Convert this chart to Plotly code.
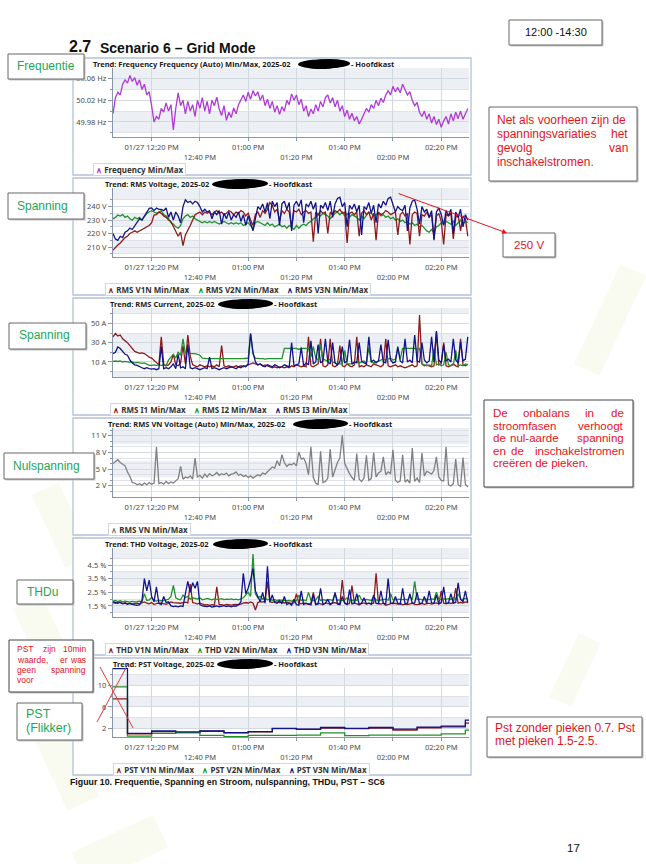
import math
import pandas as pd
import plotly.graph_objects as go

W, H = 646, 864

# ---------------- data (one value per minute from 12:04) ----------------
minutes = pd.date_range("2025-01-27 12:04", periods=148, freq="min")

freq = [
    49.995, 50.025, 50.035, 50.03, 50.05, 50.058, 50.052, 50.066, 50.055, 50.062,
    50.048, 50.058, 50.04, 50.05, 50.03, 50.036, 50.01, 49.98, 49.99, 49.985,
    50.005, 49.998, 50.015, 50.0, 50.012, 49.965, 50.005, 50.034, 50.01, 50.02,
    49.995, 50.018, 50.0, 50.012, 49.99, 50.02, 50.005, 50.025, 50.0, 50.018,
    49.995, 50.02, 50.01, 50.026, 50.004, 49.992, 50.01, 49.983, 49.998, 49.988,
    50.006, 49.995, 50.012, 50.02, 50.03, 50.018, 50.035, 50.022, 50.038, 50.028,
    50.036, 50.02, 50.03, 50.01, 50.022, 50.005, 50.018, 49.998, 50.01, 49.994,
    50.008, 50.0, 50.02, 50.012, 50.032, 50.02, 50.03, 50.012, 50.022, 50.0,
    50.01, 49.99, 50.004, 49.995, 50.012, 50.0, 50.018, 50.008, 50.025, 50.03,
    50.015, 50.025, 50.008, 50.02, 50.0, 50.01, 49.99, 50.002, 49.985, 49.996,
    49.982, 49.99, 49.976, 49.985, 49.995, 50.005, 49.998, 50.012, 50.005, 50.02,
    50.01, 50.024, 50.016, 50.03, 50.038, 50.03, 50.046, 50.036, 50.044, 50.034,
    50.05, 50.04, 50.03, 50.036, 50.02, 50.01, 50.016, 49.998, 49.99, 50.0,
    49.985, 49.995, 49.978, 49.99, 49.975, 49.985, 49.97, 49.982, 49.99, 49.976,
    49.995, 49.982, 49.998, 49.986, 50.0, 49.985, 49.995, 50.005,
]

v1n = [
    207.7, 210, 211.5, 213, 215, 217, 218, 220, 221, 222,
    221, 222, 223, 224, 225, 226, 228, 233.7, 234, 236,
    235, 233, 232, 230, 229, 225, 222, 218, 221, 211,
    219, 222, 226, 230, 234, 235, 236, 234, 236, 235,
    236, 234, 236, 237, 235, 236, 234, 235, 237, 236,
    234, 236, 235, 237, 236, 233, 235, 230, 226, 234,
    236, 232, 237, 235, 238, 243, 241, 236, 238, 230,
    237, 235, 238, 236, 225, 237, 236, 238, 234, 236,
    237, 235, 236, 214, 236, 234, 237, 235, 236, 220,
    236, 234, 237, 236, 238, 235, 236, 213, 235, 236,
    234, 236, 218, 235, 237, 234, 236, 230, 235, 215,
    236, 234, 235, 237, 236, 234, 235, 236, 219, 234,
    236, 233, 235, 212, 234, 236, 235, 218, 234, 233,
    236, 232, 234, 216, 233, 235, 229, 212, 234, 233,
    235, 216, 232, 234, 222, 233, 231, 218,
]
v2n = [
    231, 232, 233.7, 233, 234, 232, 233, 231, 230, 232,
    231, 232, 230, 233, 235, 236, 237, 236, 235, 236,
    237, 234, 233, 231, 228, 227, 225, 224, 226, 231,
    233, 234, 232, 233, 231, 230, 229, 228, 229, 228,
    229, 228, 229, 228, 227, 228, 229, 228, 227, 228,
    227, 228, 227, 228, 226, 227, 228, 226, 224, 228,
    229, 228, 227, 226, 228, 226, 227, 225, 226, 227,
    225, 226, 224, 226, 225, 223, 226, 224, 226, 227,
    226, 228, 229, 231, 232, 234, 233, 235, 234, 233,
    231, 233, 235, 236, 234, 236, 233, 235, 232, 234,
    233, 232, 230, 233, 231, 234, 236, 235, 233, 234,
    235, 233, 234, 232, 233, 231, 232, 230, 231, 229,
    230, 228, 229, 227, 228, 226, 227, 225, 226, 224,
    222, 221, 223, 221, 225, 226, 228, 227, 229, 228,
    227, 229, 226, 228, 230, 227, 229, 228,
]
v3n = [
    220, 216, 215, 218, 217, 221, 222, 224, 223, 226,
    228, 231, 230, 233, 236, 238.7, 239, 237, 239, 238,
    238, 237, 239, 232, 236, 230, 236, 233, 228, 240,
    245, 243, 244, 242, 244, 243, 240, 236, 238, 236,
    237, 231, 236, 234, 237, 227, 235, 231, 236, 230,
    234, 232, 236, 229, 234, 226, 233, 228, 222, 231,
    240, 238, 242, 236, 243, 231, 244, 240, 243, 226,
    242, 244, 238, 243, 222, 241, 244, 240, 245, 228,
    242, 240, 244, 238, 243, 220, 241, 239, 243, 237,
    244, 232, 242, 246, 247, 240, 243, 225, 241, 238,
    242, 236, 241, 219, 240, 238, 243, 235, 241, 228,
    242, 239, 244, 241, 246, 247, 241, 236, 240, 238,
    237, 241, 222, 239, 244, 245, 238, 227, 240, 236,
    238, 232, 237, 215, 236, 239, 234, 226, 237, 233,
    238, 220, 236, 232, 238, 225, 234, 230,
]

i1 = [
    36, 39.5, 37, 38, 34, 32, 30, 27, 24, 21,
    20, 19, 19.5, 18.7, 17, 15, 14, 12, 10, 7,
    36, 8, 6, 7, 10, 18, 7, 6, 9, 27,
    8, 38, 16, 7, 6, 5, 7, 6, 5, 6,
    5, 6, 5, 7, 5, 27, 6, 5, 6, 5,
    5, 6, 5, 6, 5, 6, 7, 8, 9, 8,
    7, 8, 6, 7, 6, 5, 4, 5, 4, 5,
    5, 4, 5, 4, 6, 5, 7, 6, 5, 6,
    5, 36, 6, 5, 7, 8, 34, 6, 5, 7,
    34, 6, 5, 7, 27, 6, 5, 8, 6, 5,
    7, 36, 5, 6, 5, 7, 6, 5, 8, 7,
    6, 5, 7, 34, 6, 5, 6, 7, 5, 6,
    5, 4, 5, 6, 7, 5, 6, 58.7, 8, 6,
    7, 6, 5, 6, 41, 7, 8, 30, 6, 5,
    7, 8, 6, 5, 34, 7, 6, 8,
]
i2 = [
    10.7, 11, 10.5, 11, 10, 10.5, 10, 9.5, 10, 9,
    9.5, 9, 8.5, 9, 8, 6.5, 6.5, 7, 6.5, 7,
    6.5, 7, 6, 12, 15, 18, 14, 20, 17, 34,
    19, 22, 18.7, 19, 18.7, 18, 17, 14, 13.5, 13.5,
    13.5, 13.5, 13.5, 13.5, 13, 13.5, 13.5, 13.5, 13.5, 13.5,
    13.5, 13, 13.5, 13.5, 13.5, 14, 13.5, 39.5, 18, 14,
    13.5, 13.5, 13.5, 13, 13.5, 13.5, 13.5, 13.5, 13.5, 13.5,
    13.5, 24, 24, 24, 24, 24, 24, 23, 24, 24,
    24, 24, 15, 26, 14, 12, 28, 13, 12, 11,
    13, 10, 9, 8, 8, 8, 22, 8, 8, 8,
    9, 10, 9, 10, 11, 9, 25, 10, 9, 10,
    11, 12, 13, 12, 13, 14, 12, 13, 24, 13,
    24, 24, 24, 24, 24, 24, 23, 24, 8, 7,
    6, 7, 6, 24, 7, 8, 6, 7, 20, 7,
    6, 7, 22, 6, 7, 6, 8, 7,
]
i3 = [
    18.7, 20, 25.6, 24, 21, 18, 17, 12, 9, 7,
    6.5, 5, 4, 3, 4, 3, 2.5, 3, 2, 3,
    26, 3, 4, 3, 5, 8, 3, 18, 4, 5,
    3, 28, 4, 3, 4, 3, 2, 3, 4, 3,
    15, 3, 4, 3, 2, 3, 4, 3, 4, 5,
    4, 3, 5, 4, 6, 5, 8, 39.5, 20, 10,
    7, 8, 6, 5, 7, 6, 5, 7, 6, 4,
    5, 7, 6, 5, 30, 6, 7, 8, 25, 6,
    9, 7, 32, 8, 10, 28, 9, 11, 34, 10,
    8, 30, 9, 7, 10, 26, 9, 11, 33, 8,
    10, 9, 30, 11, 9, 8, 36, 10, 12, 9,
    11, 28, 10, 9, 33, 12, 9, 10, 26, 11,
    9, 34, 10, 12, 9, 38, 11, 10, 30, 12,
    9, 11, 36, 10, 42, 12, 9, 28, 11, 13,
    10, 34, 12, 9, 31, 11, 13, 36,
]

vn = [
    6, 6.4, 6.7, 6.2, 5.9, 5.6, 4.5, 3.7, 2.6, 2.5,
    2.2, 2.4, 2.1, 2.5, 2.2, 2.6, 2.3, 2.5, 9, 2.4,
    2.6, 2.3, 2.8, 2.4, 2.7, 2.5, 2.9, 3.3, 5.5, 3.2,
    3.6, 3.4, 3.8, 3.2, 7, 3.6, 3.9, 3.4, 4.1, 3.6,
    4.2, 3.8, 4.0, 4.4, 3.9, 4.2, 4.0, 4.3, 3.8, 4.1,
    4.2, 4.5, 3.9, 4.1, 3.7, 3.9, 3.5, 3.8, 3.4, 3.7,
    4.0, 3.8, 4.3, 4.1, 4.6, 5.0, 5.4, 5.2, 6.5, 5.6,
    7.6, 6.2, 5.5, 5.9, 5.8, 6.1, 5.6, 8.1, 6.8, 7.0,
    6.0, 4.0, 9.0, 3.5, 2.5, 2.2, 8.2, 2.6, 2.8, 3.4,
    8.6, 3.6, 4.8, 6.2, 7.0, 11.1, 6.0, 5.0, 4.2, 3.5,
    3.0, 7.8, 3.2, 2.8, 3.4, 7.5, 3.0, 3.3, 8.0, 3.6,
    4.3, 4.6, 7.2, 4.0, 4.5, 4.2, 8.5, 3.0, 2.6, 2.9,
    7.6, 2.7, 3.1, 2.5, 8.8, 2.8, 3.4, 2.6, 7.9, 3.8,
    4.6, 4.4, 4.1, 4.8, 7.2, 3.6, 3.0, 2.9, 9.0, 2.2,
    2.0, 2.4, 6.8, 2.2, 1.9, 7.1, 2.3, 1.8,
]

thd_v1n = [
    1.75, 1.7, 1.8, 1.72, 1.68, 1.74, 1.66, 1.7, 1.62, 1.68,
    1.7, 1.65, 1.72, 1.8, 1.7, 1.66, 1.75, 1.6, 1.68, 1.72,
    1.7, 1.65, 1.62, 1.7, 1.8, 1.75, 1.72, 1.68, 1.7, 1.74,
    1.78, 1.72, 3.1, 1.75, 1.7, 1.65, 1.7, 1.62, 1.58, 1.6,
    1.55, 1.6, 1.56, 2.9, 1.58, 1.6, 1.55, 1.62, 1.58, 1.56,
    1.6, 1.62, 1.58, 1.66, 1.7, 1.75, 1.7, 1.8, 1.72, 1.2,
    1.75, 1.82, 1.78, 1.85, 3.3, 1.8, 1.76, 1.82, 1.78, 1.74,
    1.8, 1.72, 1.76, 1.7, 1.68, 1.74, 2.4, 1.7, 1.66, 1.72,
    1.68, 1.62, 1.7, 2.5, 1.64, 1.7, 1.66, 1.6, 1.72, 1.68,
    1.64, 1.7, 1.74, 1.68, 1.66, 3.4, 1.7, 1.64, 1.68, 3.0,
    1.72, 1.66, 1.6, 1.68, 1.72, 1.64, 1.7, 1.66, 1.7, 3.9,
    1.68, 1.64, 1.7, 1.55, 1.6, 1.66, 1.72, 1.68, 1.64, 1.7,
    1.58, 1.64, 1.6, 1.66, 1.7, 1.62, 1.6, 1.64, 1.68, 1.62,
    1.66, 1.7, 1.64, 1.68, 1.72, 1.66, 2.6, 1.7, 1.66, 1.72,
    1.68, 1.74, 2.8, 1.7, 1.76, 1.72, 1.8, 1.75,
]
thd_v2n = [
    1.85, 1.9, 1.82, 1.88, 1.8, 1.86, 1.82, 1.78, 1.84, 1.8,
    1.82, 1.85, 1.8, 2.4, 1.9, 1.95, 2.1, 1.9, 1.86, 1.92,
    1.88, 1.9, 1.95, 2.0, 2.2, 3.0, 2.1, 2.0, 1.95, 2.3,
    2.1, 2.2, 2.0, 2.1, 2.05, 2.0, 2.1, 1.95, 2.0, 2.05,
    2.0, 1.95, 2.02, 1.98, 2.0, 2.04, 1.96, 2.0, 1.98, 2.02,
    1.96, 2.0, 1.95, 2.0, 2.1, 2.3, 2.5, 2.2, 5.3, 2.4,
    2.1, 2.2, 2.0, 2.1, 1.95, 2.0, 1.92, 1.96, 1.9, 1.94,
    1.9, 1.92, 1.88, 1.9, 1.86, 1.92, 1.88, 2.3, 1.9, 1.94,
    1.88, 2.5, 1.92, 1.9, 1.95, 2.2, 1.9, 1.96, 1.92, 1.94,
    1.96, 1.9, 2.4, 1.92, 1.95, 1.9, 1.96, 2.1, 1.92, 1.9,
    1.94, 1.9, 2.3, 1.96, 1.92, 1.98, 1.94, 1.9, 2.2, 1.95,
    1.9, 1.94, 1.96, 2.0, 1.92, 2.4, 1.96, 1.94, 1.98, 2.0,
    1.96, 2.0, 1.94, 2.2, 1.96, 3.3, 1.98, 2.0, 1.96, 1.94,
    2.0, 1.96, 2.02, 1.98, 2.5, 2.0, 1.96, 2.02, 2.0, 2.04,
    1.98, 2.1, 2.0, 2.4, 2.02, 1.98, 2.05, 2.0,
]
thd_v3n = [
    1.8, 1.75, 1.7, 1.78, 1.65, 1.7, 1.62, 1.68, 1.6, 1.58,
    1.55, 1.6, 1.9, 3.5, 2.6, 3.4, 2.2, 1.8, 2.9, 1.7,
    1.6, 2.2, 1.75, 1.8, 1.5, 1.45, 1.48, 1.44, 1.5, 1.46,
    2.4, 3.3, 2.5, 3.2, 2.8, 3.3, 1.6, 1.5, 1.48, 1.45,
    1.5, 1.42, 1.46, 1.5, 1.44, 1.48, 1.52, 1.46, 1.5, 1.44,
    1.5, 1.48, 1.6, 1.8, 3.9, 2.4, 2.8, 3.4, 4.25, 2.6,
    2.2, 1.8, 2.5, 1.7, 4.4, 1.8, 2.3, 1.75, 1.7, 1.9,
    1.65, 2.2, 1.6, 1.7, 1.55, 2.0, 1.6, 1.55, 2.6, 1.6,
    1.7, 1.62, 1.58, 2.3, 1.6, 1.65, 2.8, 1.6, 1.7, 2.0,
    1.6, 1.75, 2.5, 1.65, 1.6, 2.2, 1.7, 1.6, 2.7, 1.65,
    1.7, 2.4, 1.6, 1.72, 2.1, 1.66, 1.7, 1.62, 2.3, 1.68,
    1.66, 2.6, 1.7, 1.64, 3.5, 1.7, 1.66, 2.2, 1.7, 1.62,
    2.8, 1.66, 1.7, 2.4, 1.68, 1.72, 2.5, 1.66, 1.7, 2.2,
    1.68, 2.6, 1.72, 1.7, 2.3, 1.66, 1.74, 2.9, 1.7, 1.72,
    2.4, 1.7, 1.76, 3.2, 2.0, 1.8, 2.6, 1.75,
]

# PST: 10-minute values (step line)
pst_times = [
    "2025-01-27 12:04", "2025-01-27 12:10", "2025-01-27 12:20", "2025-01-27 12:30",
    "2025-01-27 12:40", "2025-01-27 12:50", "2025-01-27 13:00", "2025-01-27 13:10",
    "2025-01-27 13:20", "2025-01-27 13:30", "2025-01-27 13:40", "2025-01-27 13:50",
    "2025-01-27 14:00", "2025-01-27 14:10", "2025-01-27 14:20", "2025-01-27 14:30",
    "2025-01-27 14:31:30",
]
pst_v1n = [7.5, 1.0, 1.45, 1.25, 1.5, 1.2, 1.4, 2.0, 1.85, 2.1, 2.0, 2.1, 1.7, 2.15, 2.3, 3.0, 3.0]
pst_v2n = [9.7, 0.6, 1.1, 1.25, 0.75, 0.5, 0.75, 0.75, 0.8, 1.2, 0.7, 0.8, 0.8, 0.8, 1.0, 1.7, 1.7]
pst_v3n = [13.1, 1.1, 1.55, 1.4, 1.55, 1.25, 1.45, 2.05, 1.9, 2.2, 2.05, 2.2, 1.9, 2.25, 2.45, 3.55, 3.55]

tick_times = ["2025-01-27 12:20", "2025-01-27 12:40", "2025-01-27 13:00", "2025-01-27 13:20",
              "2025-01-27 13:40", "2025-01-27 14:00", "2025-01-27 14:20"]
tick_text = ["01/27 12:20 PM", "<br>12:40 PM", "01:00 PM", "<br>01:20 PM",
             "01:40 PM", "<br>02:00 PM", "02:20 PM"]

RED, GREEN, BLUE = "#8e1b1b", "#22912a", "#13138a"
PURPLE, GREY = "#b03ad3", "#808080"
DOC_RED, DOC_GREEN = "#e3141c", "#22a858"


def fx(px):
    return px / W


def fy(py):
    return 1 - py / H


def ax_id(i):
    return "" if i == 1 else str(i)


# panel definitions: plot top (px), y range, ticks, minor ticks, grey bands, title parts, legend
panels = [
    dict(top=68, rng=[49.952, 50.08], tv=[49.98, 50.02, 50.06],
         tt=["49.98 Hz", "50.02 Hz", "50.06 Hz"], minor=[49.96, 50.0, 50.04],
         bands=[(49.96, 50.0), (50.04, 50.08)],
         title="Trend: Frequency Frequency (Auto) Min/Max, 2025-02", blob=(298, 350),
         legend=[("Frequency Min/Max", PURPLE)], lx=93),
    dict(top=188, rng=[202.6, 253.8], tv=[210, 220, 230, 240],
         tt=["210 V", "220 V", "230 V", "240 V"], minor=[205, 215, 225, 235, 245],
         bands=[(205, 215), (225, 235), (245, 253.8)],
         title="Trend: RMS Voltage, 2025-02", blob=(212, 268),
         legend=[("RMS V1N Min/Max", RED), ("RMS V2N Min/Max", GREEN), ("RMS V3N Min/Max", BLUE)], lx=105),
    dict(top=308, rng=[-5.6, 66], tv=[10, 30, 50], tt=["10 A", "30 A", "50 A"],
         minor=[0, 20, 40, 60], bands=[(-5.6, 0), (20, 40), (60, 66)],
         title="Trend: RMS Current, 2025-02", blob=(218, 273),
         legend=[("RMS I1 Min/Max", RED), ("RMS I2 Min/Max", GREEN), ("RMS I3 Min/Max", BLUE)], lx=110),
    dict(top=428, rng=[0, 12.4], tv=[2, 5, 8, 11], tt=["2 V", "5 V", "8 V", "11 V"],
         minor=[1, 3, 4, 6, 7, 9, 10, 12], bands=[(3.5, 6.5), (9.5, 12.4)],
         title="Trend: RMS VN Voltage (Auto) Min/Max, 2025-02", blob=(293, 348),
         legend=[("RMS VN Min/Max", GREY)], lx=108),
    dict(top=548, rng=[0.69, 5.75], tv=[1.5, 2.5, 3.5, 4.5],
         tt=["1.5 %", "2.5 %", "3.5 %", "4.5 %"], minor=[1.0, 2.0, 3.0, 4.0, 5.0],
         bands=[(1.0, 2.0), (3.0, 4.0), (5.0, 5.75)],
         title="Trend: THD Voltage, 2025-02", blob=(213, 268),
         legend=[("THD V1N Min/Max", RED), ("THD V2N Min/Max", GREEN), ("THD V3N Min/Max", BLUE)], lx=105),
    dict(top=668, rng=[0.44, 13.2], tv=[2, 6, 10], tt=["2", "6", "10"],
         minor=[4, 8, 12], bands=[(2, 4), (6, 8), (10, 12)],
         title="Trend: PST Voltage, 2025-02", blob=(217, 273),
         legend=[("PST V1N Min/Max", RED), ("PST V2N Min/Max", GREEN), ("PST V3N Min/Max", BLUE)], lx=113),
]
PLOT_H = 69
PX0, PX1 = 113, 469

fig = go.Figure()

series = [
    (1, [(freq, PURPLE)]),
    (2, [(v2n, GREEN), (v1n, RED), (v3n, BLUE)]),
    (3, [(i1, RED), (i2, GREEN), (i3, BLUE)]),
    (4, [(vn, GREY)]),
    (5, [(thd_v1n, RED), (thd_v2n, GREEN), (thd_v3n, BLUE)]),
]
for n, lines in series:
    for vals, col in lines:
        fig.add_trace(go.Scatter(x=minutes, y=vals, mode="lines", xaxis="x" + ax_id(n),
                                 yaxis="y" + ax_id(n), line=dict(color=col, width=1.3),
                                 showlegend=False, hoverinfo="skip"))
for vals, col in [(pst_v1n, RED), (pst_v2n, GREEN), (pst_v3n, BLUE)]:
    fig.add_trace(go.Scatter(x=pst_times, y=vals, mode="lines", xaxis="x6", yaxis="y6",
                             line=dict(color=col, width=1.3, shape="hv"), showlegend=False,
                             hoverinfo="skip"))

shapes = []
annotations = []
tickfont = dict(family="Noto Sans", size=7.5, color="#4a4a4a")


# faint watermark shapes of the page
def rot_rect(cx, cy, w, h, ang):
    a = math.radians(ang)
    pts = []
    for dx, dy in [(-w / 2, -h / 2), (w / 2, -h / 2), (w / 2, h / 2), (-w / 2, h / 2)]:
        x = cx + dx * math.cos(a) - dy * math.sin(a)
        y = cy + dx * math.sin(a) + dy * math.cos(a)
        pts.append(f"{fx(x):.4f},{fy(y):.4f}")
    return "M" + " L".join(pts) + " Z"


for cx, cy, w, h, ang in [(62, 525, 30, 80, -25), (45, 640, 32, 85, -25), (65, 765, 34, 85, -25),
                          (120, 850, 90, 36, -25), (610, 320, 28, 110, 25), (575, 670, 24, 70, 25)]:
    shapes.append(dict(type="path", xref="paper", yref="paper", path=rot_rect(cx, cy, w, h, ang),
                       fillcolor="#f9fbf0", line=dict(width=0), layer="below"))

for i, p in enumerate(panels, start=1):
    a = ax_id(i)
    top = p["top"]
    bot = top + PLOT_H
    # panel frame
    shapes.append(dict(type="rect", xref="paper", yref="paper", x0=fx(73), x1=fx(471),
                       y0=fy(top + 107), y1=fy(top - 10), fillcolor="white",
                       line=dict(color="#b3c1d6", width=1.3), layer="below"))
    for b0, b1 in p["bands"]:
        shapes.append(dict(type="rect", xref=f"x{a} domain", yref=f"y{a}", x0=0, x1=1, y0=b0, y1=b1,
                           fillcolor="#eceff3", line=dict(width=0), layer="below"))
    fig.update_layout(**{
        f"xaxis{a}": dict(domain=[fx(PX0), fx(PX1)], anchor=f"y{a}", type="date",
                          range=["2025-01-27 12:04", "2025-01-27 14:31:30"],
                          tickvals=tick_times, ticktext=tick_text, tickfont=tickfont,
                          ticks="outside", ticklen=3, tickcolor="#8a96a8",
                          showgrid=True, gridcolor="#d3d9e1", gridwidth=1,
                          showline=True, linecolor="#8a96a8", linewidth=1.2, zeroline=False,
                          fixedrange=True),
        f"yaxis{a}": dict(domain=[fy(bot), fy(top)], anchor=f"x{a}", range=p["rng"],
                          tickvals=p["tv"], ticktext=p["tt"], tickfont=tickfont,
                          ticks="outside", ticklen=4, tickcolor="#8a96a8",
                          showgrid=True, gridcolor="#d3d9e1", gridwidth=1,
                          minor=dict(tickvals=p["minor"], showgrid=True, gridcolor="#dfe3e9",
                                     ticks="outside", ticklen=2, tickcolor="#8a96a8"),
                          showline=True, linecolor="#8a96a8", linewidth=1.2, zeroline=False,
                          fixedrange=True),
    })
    # title with redaction blob
    ty = top - 4
    annotations.append(dict(text="<b>" + p["title"] + "</b>", x=fx(p["lx"]),
                            y=fy(ty), xref="paper", yref="paper", xanchor="left", yanchor="middle",
                            showarrow=False, borderpad=0, borderwidth=0,
                            font=dict(family="Noto Sans", size=7.5, color="#1a1a1a")))
    b0, b1 = p["blob"]
    shapes.append(dict(type="circle", xref="paper", yref="paper", x0=fx(b0), x1=fx(b1 - 6),
                       y0=fy(ty + 5), y1=fy(ty - 4.5), fillcolor="black", line=dict(width=0)))
    shapes.append(dict(type="circle", xref="paper", yref="paper", x0=fx(b0 + 10), x1=fx(b1),
                       y0=fy(ty + 4), y1=fy(ty - 5), fillcolor="black", line=dict(width=0)))
    annotations.append(dict(text="<b>- Hoofdkast</b>", x=fx(b1 + 1), y=fy(ty), xref="paper",
                            yref="paper", xanchor="left", yanchor="middle", showarrow=False,
                            borderpad=0, borderwidth=0,
                            font=dict(family="Noto Sans", size=7.5, color="#1a1a1a")))
    # legend row
    parts = [f"<span style='color:{c}'>∧</span> {name}" for name, c in p["legend"]]
    annotations.append(dict(text="<b> " + "    ".join(parts) + " </b>", x=fx(p["lx"]),
                            y=fy(top + 101.5), xref="paper", yref="paper", xanchor="left",
                            yanchor="middle", showarrow=False, bgcolor="white",
                            bordercolor="#d3d8e0", borderwidth=1, borderpad=0,
                            font=dict(family="Noto Sans", size=8, color="#333333")))


# ---------------- page-level notes ----------------
def box(x0, y0, x1, y1, color="#666666"):
    shapes.append(dict(type="rect", xref="paper", yref="paper", x0=fx(x0 + 1.5), x1=fx(x1 + 1.5),
                       y0=fy(y1 + 1.5), y1=fy(y0 + 1.5), fillcolor="#c4c4c4",
                       line=dict(width=0), layer="above"))
    shapes.append(dict(type="rect", xref="paper", yref="paper", x0=fx(x0), x1=fx(x1),
                       y0=fy(y1), y1=fy(y0), fillcolor="white",
                       line=dict(color=color, width=1), layer="above"))


def txt(s, x, y, color, size=11, anchor="left", bold=False, family="Liberation Sans"):
    annotations.append(dict(text=f"<b>{s}</b>" if bold else s, x=fx(x), y=fy(y), xref="paper",
                            yref="paper", xanchor=anchor, yanchor="middle", showarrow=False,
                            borderpad=0, borderwidth=0,
                            font=dict(family=family, size=size, color=color)))


txt("2.7", 69, 46.5, "#111111", size=16, bold=True)
txt("Scenario 6 – Grid Mode", 100, 47.5, "#111111", size=14, bold=True)

box(509, 20, 602, 45)
txt("12:00 -14:30", 555.5, 32.5, "#111111", size=11, anchor="center")

for label, (x0, y0, x1, y1), tx, ty in [
    ("Frequentie", (8, 54, 84, 79), 17, 66),
    ("Spanning", (8, 193, 84, 219), 17, 205.5),
    ("Spanning", (9, 323, 86, 349), 18.5, 335),
    ("Nulspanning", (4, 453, 94, 479), 12.5, 466),
    ("THDu", (17, 580, 73, 604), 26.5, 592),
]:
    box(x0, y0, x1, y1)
    txt(label, tx, ty, DOC_GREEN, size=12)

box(17, 703, 82, 740)
txt("PST", 26, 714, DOC_GREEN, size=12.5)
txt("(Flikker)", 26, 728, DOC_GREEN, size=12.5)

# red cross over the first PST interval
for (xa, ya, xb, yb) in [(100, 667, 133, 728), (97, 722, 128, 664)]:
    shapes.append(dict(type="line", xref="paper", yref="paper", x0=fx(xa), y0=fy(ya), x1=fx(xb),
                       y1=fy(yb), line=dict(color="#e23a3a", width=1), layer="above"))

box(9, 640, 93, 692, color="#444444")
for words, y in [([("PST", 17.3, "left"), ("zijn", 43.3, "left"), ("10min", 86, "right")], 649),
                 ([("waarde,", 17.3, "left"), ("er", 60, "left"), ("was", 86, "right")], 659.5),
                 ([("geen", 17.3, "left"), ("spanning", 86, "right")], 670),
                 ([("voor", 17.3, "left")], 680)]:
    for w_, x_, a_ in words:
        txt(w_, x_, y, DOC_RED, size=8.5, anchor=a_)

box(489, 107, 637, 181)
for words, y in [([("Net als voorheen zijn de", 497, "left")], 120.5),
                 ([("spanningsvariaties", 497, "left"), ("het", 628, "right")], 134),
                 ([("gevolg", 497, "left"), ("van", 628, "right")], 148),
                 ([("inschakelstromen.", 497, "left")], 162)]:
    for w_, x_, a_ in words:
        txt(w_, x_, y, DOC_RED, size=12, anchor=a_)

box(503, 233, 555, 257)
txt("250 V", 529, 245, DOC_RED, size=11.5, anchor="center")
annotations.append(dict(x=fx(507), y=fy(233), ax=-110, ay=-40, xref="paper", yref="paper",
                        text="", showarrow=True, arrowhead=2, arrowsize=1, arrowwidth=1,
                        arrowcolor="#e3141c", standoff=0))

box(484, 400, 633, 487, color="#444444")
for words, y in [([("De", 492.7, "left"), ("onbalans", 522.7, "left"), ("in", 585, "left"),
                   ("de", 624, "right")], 413),
                 ([("stroomfasen", 492.7, "left"), ("verhoogt", 624, "right")], 425.5),
                 ([("de", 492.7, "left"), ("nul-aarde", 510, "left"), ("spanning", 624, "right")], 438),
                 ([("en", 492.7, "left"), ("de", 510.5, "left"), ("inschakelstromen", 624, "right")], 450.5),
                 ([("creëren de pieken.", 492.7, "left")], 463)]:
    for w_, x_, a_ in words:
        txt(w_, x_, y, DOC_RED, size=11.5, anchor=a_)

box(487, 717, 642, 757)
txt("Pst zonder pieken 0.7. Pst", 495, 727.5, DOC_RED, size=12)
txt("met pieken 1.5-2.5.", 495, 741, DOC_RED, size=12)

txt("Figuur 10. Frequentie, Spanning en Stroom, nulspanning, THDu, PST – SC6", 70, 782,
    "#111111", size=8.8, bold=True)
txt("17", 573, 848, "#111111", size=11.5, anchor="center")

fig.update_layout(width=W, height=H, autosize=False, margin=dict(l=0, r=0, t=0, b=0),
                  paper_bgcolor="white", plot_bgcolor="rgba(0,0,0,0)", showlegend=False,
                  shapes=shapes, annotations=annotations)

# the page is photographed edge to edge, so drop the browser's default body margin
fig.write_html("out.html", config={"displayModeBar": False},
               post_script="document.body.style.margin='0px';")
